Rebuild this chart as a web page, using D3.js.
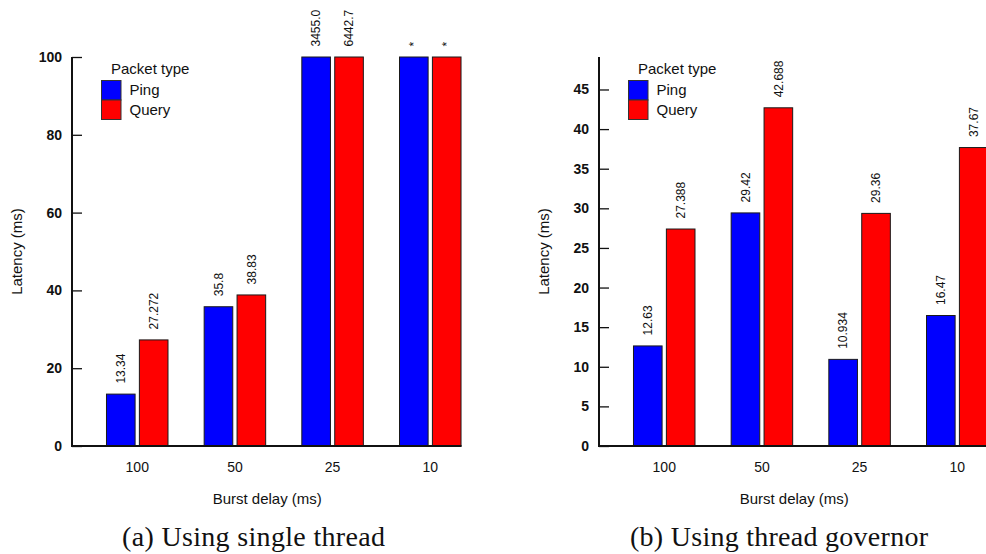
<!DOCTYPE html>
<html>
<head>
<meta charset="utf-8">
<script src="https://cdn.jsdelivr.net/npm/d3@7"></script>
<style>
  html, body { margin: 0; padding: 0; background: #fff; }
  svg { display: block; }
</style>
</head>
<body>
<svg id="chart" width="986" height="554"></svg>
<script>
// ---------- data ----------
const categories = ["100", "50", "25", "10"];
const seriesNames = ["Ping", "Query"];
const seriesColors = ["#0000ff", "#ff0000"];

// (a) single thread — null = off-scale, not reported ("*")
const pingA = [13.34, 35.8, 3455.0, null];
const queryA = [27.272, 38.83, 6442.7, null];
const pingALabels = ["13.34", "35.8", "3455.0", "*"];
const queryALabels = ["27.272", "38.83", "6442.7", "*"];
const yTicksA = [0, 20, 40, 60, 80, 100];
const yMaxA = 100;

// (b) thread governor
const pingB = [12.63, 29.42, 10.934, 16.47];
const queryB = [27.388, 42.688, 29.36, 37.67];
const pingBLabels = ["12.63", "29.42", "10.934", "16.47"];
const queryBLabels = ["27.388", "42.688", "29.36", "37.67"];
const yTicksB = [0, 5, 10, 15, 20, 25, 30, 35, 40, 45];
const yMaxB = 49.1;

const xTitle = "Burst delay (ms)";
const yTitle = "Latency (ms)";
const legendTitle = "Packet type";
const captions = ["(a) Using single thread", "(b) Using thread governor"];

// ---------- drawing ----------
const svg = d3.select("#chart");
const sans = "'Liberation Sans', Arial, Helvetica, sans-serif";

function panel(opts) {
  const { axisX, yMax, yTicks, series, labels, caption, captionX, captionW } = opts;
  const y0 = 446, yTop = 57;
  const g = svg.append("g");

  const y = d3.scaleLinear().domain([0, yMax]).range([y0, yTop]);
  const x = d3.scaleBand().domain(categories)
    .range([axisX + 16.4, axisX + 16.4 + 390.7])
    .paddingInner(0.36).paddingOuter(0.18);
  const xs = d3.scaleBand().domain(seriesNames)
    .range([0, x.bandwidth()]).paddingInner(0.1);

  // bars
  seriesNames.forEach((s, si) => {
    const vals = series[si];
    const labs = labels[si];
    categories.forEach((c, ci) => {
      const v = vals[ci];
      const vv = (v === null || v > yMax) ? yMax : v;
      const bx = x(c) + xs(s);
      g.append("rect")
        .attr("x", bx + 0.5)
        .attr("y", y(vv))
        .attr("width", xs.bandwidth() - 1)
        .attr("height", y0 - y(vv))
        .attr("fill", seriesColors[si])
        .attr("stroke", "#1a1a1a")
        .attr("stroke-width", 1);
      const cx = bx + xs.bandwidth() / 2;
      g.append("text")
        .attr("transform", `translate(${cx},${y(vv) - 10.5}) rotate(-90)`)
        .attr("dy", "0.35em")
        .attr("text-anchor", "start")
        .attr("font-family", sans)
        .attr("font-size", 12)
        .attr("fill", "#111")
        .text(labs[ci]);
    });
  });

  // y axis
  const yAxis = d3.axisLeft(y).tickValues(yTicks).tickSize(-10).tickPadding(10).tickFormat(d3.format("d"));
  const ya = g.append("g").attr("transform", `translate(${axisX},0)`).call(yAxis);
  ya.select(".domain").remove();
  ya.selectAll(".tick line").attr("stroke", "#111").attr("stroke-width", 1.3);
  ya.selectAll(".tick text")
    .attr("font-family", sans).attr("font-size", 14).attr("font-weight", "bold").attr("fill", "#111");
  g.append("line")
    .attr("x1", axisX).attr("x2", axisX)
    .attr("y1", y(yMax)).attr("y2", y0 + 1)
    .attr("stroke", "#111").attr("stroke-width", 2);

  // x axis
  const xa = g.append("g").attr("transform", `translate(0,${y0})`)
    .call(d3.axisBottom(x).tickSize(0).tickPadding(16));
  xa.select(".domain").remove();
  xa.selectAll(".tick text")
    .attr("font-family", sans).attr("font-size", 14).attr("fill", "#111");
  g.append("line")
    .attr("x1", axisX - 1).attr("x2", x(categories[categories.length - 1]) + x.bandwidth())
    .attr("y1", y0).attr("y2", y0)
    .attr("stroke", "#111").attr("stroke-width", 2);

  // axis titles
  g.append("text")
    .attr("x", (axisX + x(categories[categories.length - 1]) + x.bandwidth()) / 2 + 0.5)
    .attr("y", 504)
    .attr("text-anchor", "middle")
    .attr("font-family", sans).attr("font-size", 15).attr("fill", "#111")
    .text(xTitle);
  g.append("text")
    .attr("transform", `translate(${axisX - 50},${(y0 + yTop) / 2}) rotate(-90)`)
    .attr("text-anchor", "middle")
    .attr("font-family", sans).attr("font-size", 15).attr("fill", "#111")
    .text(yTitle);

  // legend
  const lg = g.append("g").attr("transform", `translate(${axisX},0)`);
  lg.append("text").attr("x", 39).attr("y", 74)
    .attr("font-family", sans).attr("font-size", 15).attr("fill", "#111")
    .text(legendTitle);
  seriesNames.forEach((s, si) => {
    lg.append("rect")
      .attr("x", 29.5).attr("y", 80.5 + si * 19.5)
      .attr("width", 19.5).attr("height", 19.5)
      .attr("fill", seriesColors[si]).attr("stroke", "#333").attr("stroke-width", 1);
    lg.append("text").attr("x", 57.5).attr("y", 90 + si * 19.5).attr("dy", "0.35em")
      .attr("font-family", sans).attr("font-size", 15).attr("fill", "#111")
      .text(s);
  });

  // caption
  svg.append("text")
    .attr("x", captionX).attr("y", 546)
    .attr("text-anchor", "middle")
    .attr("font-family", "'Liberation Serif', 'Times New Roman', serif")
    .attr("font-size", 28).attr("fill", "#111")
    .attr("textLength", captionW).attr("lengthAdjust", "spacing")
    .text(caption);
}

panel({
  axisX: 72, yMax: yMaxA, yTicks: yTicksA,
  series: [pingA, queryA], labels: [pingALabels, queryALabels],
  caption: captions[0], captionX: 253.5, captionW: 263
});
panel({
  axisX: 599, yMax: yMaxB, yTicks: yTicksB,
  series: [pingB, queryB], labels: [pingBLabels, queryBLabels],
  caption: captions[1], captionX: 779, captionW: 298
});
</script>
</body>
</html>
